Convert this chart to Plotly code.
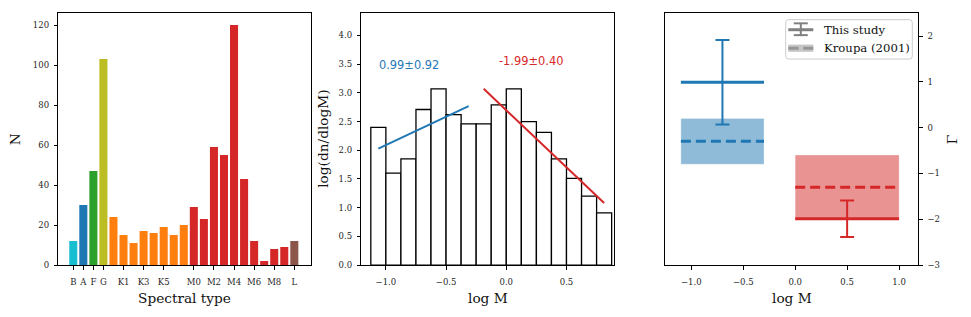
import plotly.graph_objects as go

# ---------------- data ----------------
spectral_types = ['B', 'A', 'F', 'G',
                  'K0', 'K1', 'K2', 'K3', 'K4', 'K5', 'K6', 'K7',
                  'M0', 'M1', 'M2', 'M3', 'M4', 'M5', 'M6', 'M7', 'M8', 'M9',
                  'L']
counts = [12, 30, 47, 103,
          24, 15, 11, 17, 16, 19, 15, 20,
          29, 23, 59, 55, 120, 43, 12, 2, 8, 9,
          12]
tick_labels = ['B', 'A', 'F', 'G', 'K1', 'K3', 'K5', 'M0', 'M2', 'M4', 'M6', 'M8', 'L']
class_colors = {'B': '#17becf', 'A': '#1f77b4', 'F': '#2ca02c', 'G': '#bcbd22',
                'K': '#ff7f0e', 'M': '#d62728', 'L': '#8c564b'}

# mass function histogram (log M bin centres, log(dn/dlogM))
logm_bins = [-1.0625, -0.9375, -0.8125, -0.6875, -0.5625, -0.4375, -0.3125, -0.1875,
             -0.0625, 0.0625, 0.1875, 0.3125, 0.4375, 0.5625, 0.6875, 0.8125]
logm_binwidth = 0.125
log_dn = [2.40, 1.60, 1.85, 2.71, 3.07, 2.62, 2.46, 2.46,
          2.79, 3.07, 2.50, 2.31, 1.85, 1.51, 1.20, 0.91]

# power-law fits
fit_low_x = [-1.0625, -0.3125]
fit_low_y = [2.03, 2.77]
fit_high_x = [-0.1875, 0.8125]
fit_high_y = [3.07, 1.08]

# slopes: this study vs Kroupa (2001)
mass_lo = [-1.1, 0.0]
mass_hi = [-0.3, 1.0]
errbar_x = [-0.7, 0.5]
gamma_study = [0.99, -1.99]
gamma_study_err = [0.92, 0.40]
gamma_kroupa = [-0.3, -1.3]
gamma_kroupa_err = [0.5, 0.7]
seg_colors = ['#1f77b4', '#d62728']
seg_fill = ['rgba(31,119,180,0.5)', 'rgba(214,39,40,0.5)']

# ---------------- figure ----------------
W, H = 971, 317


def px(x):
    return x / W


def py(y):
    return 1 - y / H


SERIF = 'DejaVu Serif'
fig = go.Figure()

# panel 1: spectral type counts
fig.add_trace(go.Bar(
    x=spectral_types, y=counts, width=0.8,
    marker=dict(color=[class_colors[s[0]] for s in spectral_types], line=dict(width=0)),
    xaxis='x', yaxis='y', showlegend=False))

# panel 2: histogram
fig.add_trace(go.Bar(
    x=logm_bins, y=log_dn, width=logm_binwidth,
    marker=dict(color='white', line=dict(color='black', width=1.3)),
    xaxis='x2', yaxis='y2', showlegend=False))
fig.add_trace(go.Scatter(x=fit_low_x, y=fit_low_y, mode='lines',
                         line=dict(color='#1f77b4', width=2),
                         xaxis='x2', yaxis='y2', showlegend=False))
fig.add_trace(go.Scatter(x=fit_high_x, y=fit_high_y, mode='lines',
                         line=dict(color='#d62728', width=2),
                         xaxis='x2', yaxis='y2', showlegend=False))

# panel 3
for i in range(2):
    lo, hi = mass_lo[i], mass_hi[i]
    g, e = gamma_kroupa[i], gamma_kroupa_err[i]
    fig.add_trace(go.Scatter(x=[lo, hi, hi, lo, lo], y=[g - e, g - e, g + e, g + e, g - e],
                             mode='lines', fill='toself', fillcolor=seg_fill[i],
                             line=dict(width=0.8, color='rgba(255,255,255,0.35)'),
                             xaxis='x3', yaxis='y3', showlegend=False))
for i in range(2):
    fig.add_trace(go.Scatter(x=[mass_lo[i], mass_hi[i]], y=[gamma_kroupa[i]] * 2, mode='lines',
                             line=dict(color=seg_colors[i], width=3, dash='10px,5px'),
                             xaxis='x3', yaxis='y3', showlegend=False))
    fig.add_trace(go.Scatter(x=[mass_lo[i], mass_hi[i]], y=[gamma_study[i]] * 2, mode='lines',
                             line=dict(color=seg_colors[i], width=3),
                             xaxis='x3', yaxis='y3', showlegend=False))
    fig.add_trace(go.Scatter(x=[errbar_x[i]], y=[gamma_study[i]], mode='markers',
                             marker=dict(size=1, color='rgba(0,0,0,0)'),
                             error_y=dict(type='data', array=[gamma_study_err[i]], visible=True,
                                          color=seg_colors[i], thickness=2, width=7),
                             xaxis='x3', yaxis='y3', showlegend=False))

ydom = [py(269.3), py(13.3)]
axis_common = dict(showline=True, mirror=True, linecolor='black', linewidth=1,
                   ticks='outside', ticklen=3.5, tickwidth=0.8, tickcolor='black',
                   showgrid=False, zeroline=False, fixedrange=True)
xtick_extra = dict(ticklabelstandoff=5)
ytick_extra = dict(ticklabelstandoff=3)

fig.update_layout(
    width=W, height=H, margin=dict(l=0, r=0, t=0, b=0),
    paper_bgcolor='white', plot_bgcolor='white',
    font=dict(family=SERIF, size=8.5, color='#262626'),
    showlegend=False,
    xaxis=dict(domain=[px(58.3), px(311.3)], anchor='y', type='category',
               categoryorder='array', categoryarray=spectral_types,
               range=[-1.49, 23.69], tickmode='array', tickvals=tick_labels,
               ticktext=tick_labels, **axis_common, **xtick_extra),
    yaxis=dict(domain=ydom, anchor='x', range=[0, 126], tickvals=[0, 20, 40, 60, 80, 100, 120],
               **axis_common, **ytick_extra),
    xaxis2=dict(domain=[px(361.3), px(614.3)], anchor='y2', range=[-1.204, 0.897],
                tickvals=[-1.0, -0.5, 0.0, 0.5], tickformat='.1f', **axis_common, **xtick_extra),
    yaxis2=dict(domain=ydom, anchor='x2', range=[0, 4.39], dtick=0.5, tick0=0,
                tickformat='.1f', **axis_common, **ytick_extra),
    xaxis3=dict(domain=[px(665.3), px(918.3)], anchor='y3', range=[-1.25, 1.185],
                tickvals=[-1.0, -0.5, 0.0, 0.5, 1.0], tickformat='.1f', **axis_common, **xtick_extra),
    yaxis3=dict(domain=ydom, anchor='x3', side='right', range=[-3, 2.5],
                tickvals=[-3, -2, -1, 0, 1, 2], **axis_common, **ytick_extra),
)

ann = []
TF = dict(family=SERIF, size=13.7, color='#111')
ann.append(dict(text='N', x=px(15.3), y=py(141.3), textangle=-90, font=TF))
ann.append(dict(text='Spectral type', x=px(184.8), y=py(302.5), font=TF))
ann.append(dict(text='log(dn/dlogM)', x=px(322.7), y=py(141.3), textangle=-90, font=TF))
ann.append(dict(text='log M', x=px(487.8), y=py(302.5), font=TF))
ann.append(dict(text='log M', x=px(791.8), y=py(302.5), font=TF))
ann.append(dict(text='Γ', x=px(952.3), y=py(141.3), textangle=-90, font=TF))
for a in ann:
    a.update(xref='paper', yref='paper', showarrow=False, xanchor='center', yanchor='middle')

# fit labels in panel 2
fig_ann = [
    dict(text=f'{gamma_study[0]:.2f}±{gamma_study_err[0]:.2f}', x=-0.804, y=3.485,
         font=dict(family='DejaVu Sans', size=11.4, color='#1f77b4')),
    dict(text=f'{gamma_study[1]:.2f}±{gamma_study_err[1]:.2f}', x=0.207, y=3.554,
         font=dict(family='DejaVu Sans', size=11.4, color='#d62728')),
]
for a in fig_ann:
    a.update(xref='x2', yref='y2', showarrow=False, xanchor='center', yanchor='middle')
    ann.append(a)

# manual legend in panel 3
LF = dict(family=SERIF, size=11.7, color='#111')
ann.append(dict(text='This study', x=px(821.7), y=py(30.7), xref='paper', yref='paper',
                showarrow=False, xanchor='left', yanchor='middle', font=LF))
ann.append(dict(text='Kroupa (2001)', x=px(821.7), y=py(49), xref='paper', yref='paper',
                showarrow=False, xanchor='left', yanchor='middle', font=LF))
fig.update_layout(annotations=ann)

# legend frame (rounded)
x0, x1, y0, y1, r = 785.7, 912.3, 20, 60, 3
path = (f'M {px(x0 + r)},{py(y0)} L {px(x1 - r)},{py(y0)} Q {px(x1)},{py(y0)} {px(x1)},{py(y0 + r)} '
        f'L {px(x1)},{py(y1 - r)} Q {px(x1)},{py(y1)} {px(x1 - r)},{py(y1)} '
        f'L {px(x0 + r)},{py(y1)} Q {px(x0)},{py(y1)} {px(x0)},{py(y1 - r)} '
        f'L {px(x0)},{py(y0 + r)} Q {px(x0)},{py(y0)} {px(x0 + r)},{py(y0)} Z')
shapes = [dict(type='path', path=path, xref='paper', yref='paper',
               fillcolor='rgba(255,255,255,0.8)', line=dict(color='#cccccc', width=1))]
G = '#808080'
# errorbar symbol
shapes.append(dict(type='line', x0=px(788.3), x1=px(813.3), y0=py(30.2), y1=py(30.2),
                   xref='paper', yref='paper', line=dict(color=G, width=3)))
shapes.append(dict(type='line', x0=px(800.8), x1=px(800.8), y0=py(23.7), y1=py(35.7),
                   xref='paper', yref='paper', line=dict(color=G, width=2)))
for yy in (23.7, 35.7):
    shapes.append(dict(type='line', x0=px(793.8), x1=px(807.8), y0=py(yy), y1=py(yy),
                       xref='paper', yref='paper', line=dict(color=G, width=2)))
# patch + dashed symbol
shapes.append(dict(type='rect', x0=px(788.3), x1=px(813.3), y0=py(45.3), y1=py(52.7),
                   xref='paper', yref='paper', fillcolor='rgba(128,128,128,0.45)', line=dict(width=0)))
for xa, xb in ((788.3, 798.6), (803.3, 813.3)):
    shapes.append(dict(type='line', x0=px(xa), x1=px(xb), y0=py(49), y1=py(49),
                       xref='paper', yref='paper', line=dict(color='#969696', width=3)))
fig.update_layout(shapes=shapes)

fig.write_html('out.html')
